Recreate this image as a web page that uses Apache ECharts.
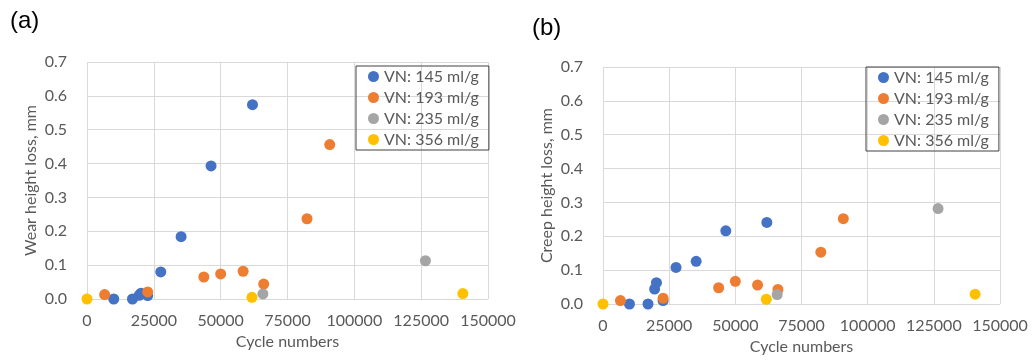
<!DOCTYPE html>
<html>
<head>
<meta charset="utf-8">
<script src="https://cdn.jsdelivr.net/npm/echarts@6/dist/echarts.min.js"></script>
<style>
  html, body { margin: 0; padding: 0; background: #fff; }
  #chart { width: 1033px; height: 360px; }
</style>
</head>
<body>
<div id="chart"></div>
<script>
// cycle numbers per group (same specimens in both panels)
const names = ['VN: 145 ml/g', 'VN: 193 ml/g', 'VN: 235 ml/g', 'VN: 356 ml/g']
const colors = ['#4472C4', '#ED7D31', '#A5A5A5', '#FFC000']

const blueX = [10000, 17000, 19500, 20200, 22700, 27600, 35200, 46400, 61900]
const blueWear = [0, 0, 0.011, 0.017, 0.01, 0.08, 0.184, 0.393, 0.574]
const blueCreep = [0, 0, 0.044, 0.063, 0.01, 0.108, 0.126, 0.216, 0.241]

const orangeX = [6600, 22700, 43700, 50000, 58400, 66100, 82300, 90800]
const orangeWear = [0.013, 0.021, 0.065, 0.074, 0.082, 0.044, 0.237, 0.456]
const orangeCreep = [0.01, 0.017, 0.048, 0.067, 0.056, 0.043, 0.153, 0.252]

const grayX = [65800, 126600]
const grayWear = [0.015, 0.113]
const grayCreep = [0.028, 0.282]

const yellowX = [0, 61700, 140600]
const yellowWear = [0, 0.005, 0.016]
const yellowCreep = [0, 0.014, 0.029]

const xTicks = [0, 25000, 50000, 75000, 100000, 125000, 150000]

const groupX = [blueX, orangeX, grayX, yellowX]
const wear = [blueWear, orangeWear, grayWear, yellowWear]
const creep = [blueCreep, orangeCreep, grayCreep, yellowCreep]

const font = 'Lato, "Open Sans", sans-serif'
const gridColor = '#D9D9D9'
const labelColor = '#595959'

function pairs(xs, ys) {
  return xs.map((x, i) => [x, ys[i]])
}

function xAxisCfg(idx) {
  return {
    gridIndex: idx,
    type: 'value',
    min: xTicks[0],
    max: xTicks[xTicks.length - 1],
    interval: xTicks[1] - xTicks[0],
    name: 'Cycle numbers',
    nameLocation: 'middle',
    nameGap: 35,
    nameTextStyle: { color: labelColor, fontSize: 16, fontFamily: font },
    axisLine: { show: false },
    axisTick: { show: false },
    axisLabel: {
      color: labelColor, fontSize: 16, fontFamily: font, margin: 14,
      formatter: v => String(v) // no thousands separator
    },
    splitLine: { show: true, lineStyle: { color: gridColor, width: 1 } }
  }
}

function yAxisCfg(idx, name) {
  return {
    gridIndex: idx,
    type: 'value',
    min: 0,
    max: 0.7,
    interval: 0.1,
    name: name,
    nameLocation: 'middle',
    nameGap: 48,
    nameTextStyle: { color: labelColor, fontSize: 16, fontFamily: font },
    axisLine: { show: false },
    axisTick: { show: false },
    axisLabel: {
      color: labelColor, fontSize: 16, fontFamily: font, margin: 20,
      formatter: v => v.toFixed(1)
    },
    splitLine: { show: true, lineStyle: { color: gridColor, width: 1 } }
  }
}

function legendCfg(left, top) {
  return {
    left: left,
    top: top,
    orient: 'vertical',
    data: names,
    icon: 'circle',
    itemWidth: 11,
    itemHeight: 11,
    itemGap: 0,
    padding: [0, 10, 0, 12],
    borderColor: '#404040',
    borderWidth: 1,
    selectedMode: false,
    textStyle: { color: labelColor, fontSize: 16, fontFamily: font, lineHeight: 21 }
  }
}

const series = []
names.forEach((n, i) => {
  series.push({
    name: n, type: 'scatter', xAxisIndex: 0, yAxisIndex: 0,
    symbolSize: 11, itemStyle: { color: colors[i], opacity: 1 },
    data: pairs(groupX[i], wear[i]), z: 2 + i
  })
})
names.forEach((n, i) => {
  series.push({
    name: n, type: 'scatter', xAxisIndex: 1, yAxisIndex: 1,
    symbolSize: 11, itemStyle: { color: colors[i], opacity: 1 },
    data: pairs(groupX[i], creep[i]), z: 2 + i
  })
})

const chart = echarts.init(document.getElementById('chart'))
chart.setOption({
  animation: false,
  title: [
    { text: '(a)', left: 5, top: 4, textStyle: { color: '#000', fontSize: 24, fontWeight: 'normal', fontFamily: 'Liberation Sans, Arial, sans-serif' } },
    { text: '(b)', left: 527, top: 11, textStyle: { color: '#000', fontSize: 24, fontWeight: 'normal', fontFamily: 'Liberation Sans, Arial, sans-serif' } }
  ],
  grid: [
    { left: 87, right: 545, top: 62, bottom: 61 },
    { left: 603, right: 33, top: 67, bottom: 56 }
  ],
  legend: [legendCfg(356, 66), legendCfg(866, 67)],
  xAxis: [xAxisCfg(0), xAxisCfg(1)],
  yAxis: [yAxisCfg(0, 'Wear height loss, mm'), yAxisCfg(1, 'Creep height loss, mm')],
  series: series
})
</script>
</body>
</html>
